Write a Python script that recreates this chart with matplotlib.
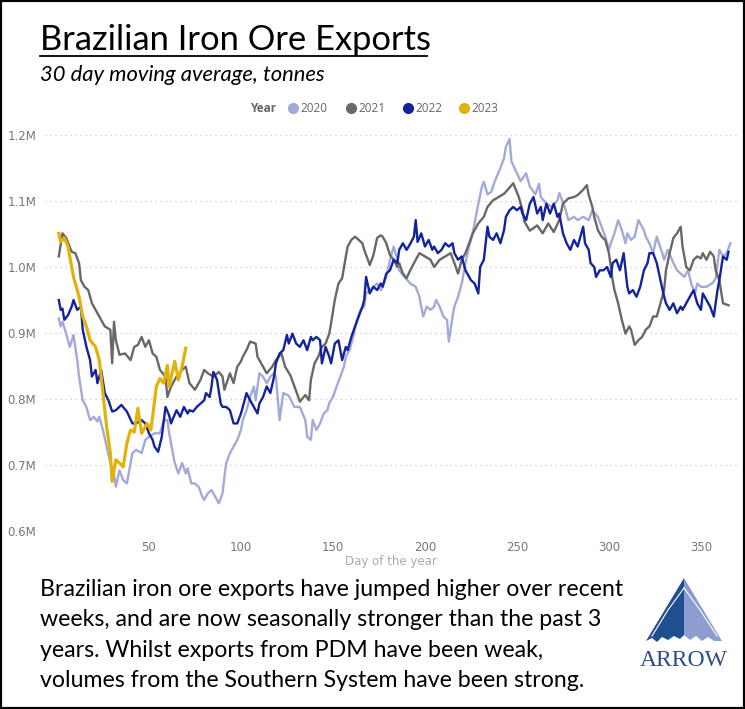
import matplotlib
matplotlib.use("Agg")
import matplotlib.pyplot as plt
from matplotlib.lines import Line2D
from matplotlib.patches import Polygon, Rectangle
from matplotlib.ticker import FuncFormatter

# ---- data (30 day moving average, million tonnes) ----
days_2020 = [1, 2, 3, 5, 7, 9, 11, 12, 14, 16, 18, 20, 22, 23, 25, 27, 29, 31, 32, 34,
             36, 38, 40, 41, 43, 46, 48, 50, 53, 56, 58, 60, 61, 64, 66, 68, 70, 71, 73, 75,
             77, 79, 80, 82, 84, 86, 88, 90, 91, 92, 94, 96, 98, 100, 101, 103, 105, 107, 108, 110,
             112, 114, 116, 118, 119, 121, 123, 126, 129, 132, 135, 136, 138, 139, 141, 143, 145, 147, 148, 150,
             152, 154, 156, 157, 159, 161, 163, 165, 167, 168, 170, 172, 174, 176, 177, 179, 181, 183, 185, 186,
             189, 192, 195, 197, 199, 201, 203, 205, 206, 208, 210, 212, 213, 215, 216, 218, 220, 222, 224, 225,
             227, 229, 231, 232, 234, 236, 238, 241, 243, 244, 246, 247, 250, 252, 255, 257, 260, 262, 263, 266,
             269, 272, 273, 276, 278, 281, 283, 286, 289, 291, 294, 296, 298, 300, 301, 303, 305, 307, 309, 310,
             312, 314, 316, 319, 320, 322, 324, 326, 329, 330, 332, 335, 337, 339, 341, 343, 345, 347, 348, 350,
             353, 356, 358, 360, 362, 364, 366]
vals_2020 = [0.922, 0.910, 0.917, 0.899, 0.879, 0.897, 0.859, 0.834, 0.798, 0.788, 0.768, 0.773, 0.766, 0.773, 0.753, 0.728, 0.703, 0.687, 0.667, 0.692,
             0.677, 0.672, 0.703, 0.718, 0.723, 0.718, 0.738, 0.743, 0.748, 0.748, 0.768, 0.768, 0.748, 0.703, 0.687, 0.703, 0.687, 0.695, 0.672, 0.672,
             0.667, 0.652, 0.647, 0.657, 0.662, 0.652, 0.642, 0.657, 0.682, 0.703, 0.718, 0.728, 0.738, 0.753, 0.768, 0.783, 0.803, 0.819, 0.798, 0.839,
             0.834, 0.824, 0.834, 0.839, 0.834, 0.768, 0.809, 0.805, 0.788, 0.788, 0.768, 0.743, 0.738, 0.768, 0.753, 0.763, 0.778, 0.783, 0.794, 0.803,
             0.819, 0.834, 0.849, 0.864, 0.874, 0.894, 0.920, 0.935, 0.940, 0.960, 0.965, 0.970, 0.975, 0.965, 0.970, 0.985, 1.011, 1.031, 1.011, 0.995,
             0.985, 0.975, 0.970, 0.955, 0.925, 0.940, 0.935, 0.940, 0.950, 0.940, 0.925, 0.920, 0.887, 0.925, 0.940, 0.955, 0.975, 1.006, 1.031, 1.041,
             1.066, 1.096, 1.122, 1.129, 1.110, 1.114, 1.130, 1.150, 1.165, 1.182, 1.194, 1.160, 1.142, 1.130, 1.142, 1.122, 1.110, 1.126, 1.106, 1.096,
             1.091, 1.101, 1.112, 1.091, 1.071, 1.076, 1.071, 1.076, 1.071, 1.086, 1.076, 1.061, 1.046, 1.026, 1.036, 1.051, 1.071, 1.056, 1.036, 1.051,
             1.041, 1.046, 1.071, 1.056, 1.046, 1.036, 1.021, 1.046, 1.021, 1.011, 1.026, 1.006, 0.995, 0.990, 0.985, 0.995, 0.972, 0.962, 0.975, 0.970,
             0.970, 0.975, 0.982, 1.026, 1.016, 1.021, 1.036]

days_2021 = [1, 2, 3, 5, 8, 10, 12, 13, 15, 17, 19, 21, 23, 26, 29, 30, 31, 32, 34, 37,
             40, 42, 44, 46, 48, 50, 52, 54, 56, 59, 60, 62, 65, 68, 70, 72, 75, 78, 80, 82,
             85, 88, 90, 91, 94, 96, 98, 100, 101, 103, 105, 108, 109, 112, 114, 117, 119, 122, 124, 127,
             130, 132, 135, 137, 138, 140, 142, 144, 146, 148, 149, 151, 153, 155, 157, 158, 160, 162, 164, 166,
             167, 169, 170, 172, 174, 176, 177, 179, 181, 183, 185, 186, 188, 190, 192, 195, 197, 200, 203, 205,
             208, 211, 214, 216, 218, 220, 222, 224, 226, 229, 232, 234, 237, 240, 243, 245, 248, 251, 253, 254,
             257, 261, 264, 267, 270, 273, 275, 278, 281, 283, 286, 288, 289, 291, 292, 294, 296, 298, 300, 302,
             303, 305, 307, 309, 311, 312, 314, 316, 318, 320, 322, 324, 326, 328, 330, 331, 333, 335, 337, 339,
             340, 342, 344, 346, 348, 350, 351, 353, 355, 357, 358, 360, 362, 365]
vals_2021 = [1.016, 1.033, 1.051, 1.044, 1.023, 1.021, 1.006, 0.980, 0.970, 0.965, 0.945, 0.935, 0.925, 0.910, 0.905, 0.854, 0.917, 0.889, 0.867, 0.869,
             0.859, 0.879, 0.882, 0.894, 0.879, 0.889, 0.869, 0.864, 0.844, 0.834, 0.803, 0.819, 0.834, 0.844, 0.849, 0.824, 0.814, 0.829, 0.844, 0.839,
             0.834, 0.841, 0.834, 0.814, 0.839, 0.824, 0.849, 0.857, 0.864, 0.874, 0.887, 0.884, 0.864, 0.849, 0.839, 0.849, 0.859, 0.869, 0.849, 0.835,
             0.812, 0.796, 0.806, 0.798, 0.829, 0.854, 0.864, 0.879, 0.884, 0.899, 0.915, 0.950, 0.975, 0.983, 1.016, 1.031, 1.041, 1.046, 1.041, 1.036,
             1.026, 1.011, 1.003, 1.018, 1.044, 1.048, 1.046, 1.036, 1.018, 1.011, 1.000, 1.006, 0.990, 0.983, 0.995, 1.011, 1.021, 1.016, 1.011, 1.000,
             1.011, 1.016, 1.021, 1.006, 0.990, 1.011, 1.021, 1.036, 1.051, 1.066, 1.076, 1.091, 1.101, 1.106, 1.111, 1.117, 1.127, 1.106, 1.086, 1.069,
             1.055, 1.063, 1.051, 1.066, 1.053, 1.071, 1.096, 1.104, 1.106, 1.109, 1.117, 1.124, 1.109, 1.091, 1.076, 1.056, 1.046, 1.041, 1.021, 0.980,
             0.965, 0.945, 0.920, 0.899, 0.910, 0.905, 0.882, 0.889, 0.894, 0.905, 0.910, 0.925, 0.925, 0.945, 0.965, 0.995, 1.021, 1.044, 1.051, 1.061,
             1.031, 1.000, 0.995, 1.011, 1.016, 1.013, 1.021, 1.011, 1.023, 1.016, 0.995, 0.980, 0.945, 0.942]

days_2022 = [1, 2, 3, 4, 6, 8, 9, 11, 13, 14, 16, 18, 19, 21, 22, 24, 26, 28, 30, 32,
             35, 38, 41, 43, 46, 48, 50, 52, 53, 55, 57, 59, 61, 62, 63, 65, 67, 69, 71, 72,
             74, 76, 78, 80, 81, 83, 84, 85, 87, 89, 90, 92, 94, 96, 98, 100, 101, 103, 105, 107,
             109, 110, 112, 114, 116, 118, 119, 121, 123, 125, 126, 128, 130, 132, 134, 136, 138, 139, 141, 143,
             144, 146, 148, 149, 151, 153, 155, 157, 158, 160, 162, 164, 166, 167, 168, 170, 172, 174, 176, 177,
             179, 181, 183, 185, 186, 188, 190, 192, 194, 195, 196, 198, 200, 202, 204, 205, 207, 209, 211, 213,
             215, 216, 218, 220, 222, 224, 225, 227, 229, 230, 232, 234, 235, 237, 239, 241, 243, 244, 246, 248,
             250, 252, 253, 255, 257, 259, 261, 263, 264, 266, 268, 270, 272, 273, 275, 277, 279, 281, 283, 284,
             286, 287, 289, 290, 292, 293, 295, 297, 299, 301, 302, 304, 306, 308, 310, 311, 313, 315, 317, 319,
             321, 322, 324, 326, 328, 330, 331, 333, 335, 337, 339, 340, 342, 344, 346, 348, 350, 351, 353, 355,
             357, 359, 360, 362, 364, 365]
vals_2022 = [0.950, 0.935, 0.937, 0.920, 0.927, 0.940, 0.950, 0.935, 0.940, 0.905, 0.879, 0.859, 0.834, 0.844, 0.824, 0.844, 0.809, 0.798, 0.781, 0.783,
             0.791, 0.781, 0.763, 0.763, 0.768, 0.763, 0.748, 0.738, 0.728, 0.720, 0.743, 0.788, 0.775, 0.763, 0.770, 0.783, 0.773, 0.788, 0.778, 0.783,
             0.781, 0.788, 0.793, 0.798, 0.809, 0.803, 0.819, 0.841, 0.829, 0.793, 0.788, 0.788, 0.783, 0.763, 0.763, 0.778, 0.788, 0.809, 0.798, 0.788,
             0.778, 0.793, 0.803, 0.819, 0.809, 0.834, 0.854, 0.869, 0.874, 0.897, 0.884, 0.899, 0.884, 0.879, 0.889, 0.874, 0.894, 0.889, 0.894, 0.889,
             0.854, 0.879, 0.864, 0.854, 0.884, 0.889, 0.859, 0.879, 0.874, 0.894, 0.910, 0.925, 0.940, 0.950, 0.985, 0.960, 0.970, 0.965, 0.975, 0.970,
             0.990, 0.995, 1.011, 1.006, 1.026, 1.036, 1.026, 1.035, 1.046, 1.071, 1.038, 1.051, 1.031, 1.041, 1.026, 1.031, 1.021, 1.026, 1.036, 1.031,
             1.036, 1.021, 1.011, 1.016, 0.995, 0.985, 0.980, 0.975, 0.960, 1.000, 1.011, 1.061, 1.046, 1.041, 1.051, 1.036, 1.056, 1.076, 1.086, 1.091,
             1.086, 1.091, 1.081, 1.071, 1.096, 1.106, 1.081, 1.091, 1.071, 1.096, 1.081, 1.096, 1.076, 1.081, 1.051, 1.036, 1.026, 1.041, 1.031, 1.041,
             1.061, 1.036, 1.026, 1.006, 1.000, 0.985, 0.995, 0.995, 1.000, 0.985, 1.006, 1.011, 0.995, 1.021, 0.970, 0.960, 0.965, 0.955, 0.970, 0.995,
             1.006, 1.021, 1.021, 1.006, 0.980, 0.955, 0.945, 0.935, 0.945, 0.930, 0.940, 0.935, 0.945, 0.955, 0.965, 0.945, 0.935, 0.960, 0.950, 0.940,
             0.925, 0.965, 0.980, 1.016, 1.011, 1.023]

days_2023 = [1, 2, 4, 6, 9, 12, 14, 16, 18, 21, 23, 25, 27, 29, 30, 32, 34, 36, 38, 40,
             42, 44, 46, 49, 51, 52, 54, 56, 58, 60, 61, 64, 66, 68, 70]
vals_2023 = [1.051, 1.038, 1.044, 1.031, 0.985, 0.955, 0.925, 0.910, 0.889, 0.879, 0.859, 0.809, 0.758, 0.718, 0.675, 0.708, 0.703, 0.697, 0.733, 0.753,
             0.750, 0.786, 0.748, 0.763, 0.753, 0.773, 0.819, 0.831, 0.824, 0.851, 0.819, 0.857, 0.829, 0.849, 0.877]

years = ["2020", "2021", "2022", "2023"]
colors = ["#a2aad9", "#686868", "#13239c", "#e0b20c"]
series = [(days_2020, vals_2020), (days_2021, vals_2021),
          (days_2022, vals_2022), (days_2023, vals_2023)]

y_ticks = [0.6, 0.7, 0.8, 0.9, 1.0, 1.1, 1.2]
x_ticks = [50, 100, 150, 200, 250, 300, 350]

W, H = 745, 709


def fx(px):
    return px / W


def fy(py):
    return 1 - py / H


fig = plt.figure(figsize=(W / 100, H / 100), dpi=100)
fig.patch.set_facecolor("white")

# plot area: x 45..737 px, y 135..531 px
ax = fig.add_axes([fx(45), fy(531), (737 - 45) / W, (531 - 135) / H])
for (d, v), c, yr in zip(series, colors, years):
    lw = 2.3 if yr == "2023" else 1.7
    ax.plot(d, v, color=c, lw=lw, solid_joinstyle="round", clip_on=False)

ax.set_xlim(-6.5, 369.6)
ax.set_ylim(0.6, 1.2)
ax.set_yticks(y_ticks)
ax.set_xticks(x_ticks)
ax.yaxis.set_major_formatter(FuncFormatter(lambda v, p: f"{v:.1f}M"))
ax.grid(axis="y", color="#c8c8c8", linestyle=(0, (1, 3)), linewidth=0.9)
ax.set_axisbelow(True)
for s in ax.spines.values():
    s.set_visible(False)
ax.tick_params(length=0, labelsize=8.5, labelcolor="#777777")
ax.tick_params(axis="x", pad=7)
for lab in ax.get_yticklabels():
    lab.set_horizontalalignment("left")
ax.tick_params(axis="y", pad=27)
ax.set_xlabel("Day of the year", fontsize=8.5, color="#aaaaaa", labelpad=1)

# title + subtitle
fig.text(fx(40), fy(40), "Brazilian Iron Ore Exports", fontsize=24.8, family="Lato",
         va="center", ha="left", color="black")
fig.add_artist(Line2D([fx(40), fx(427)], [fy(56), fy(56)], color="black", lw=1.3))
fig.text(fx(40), fy(75), "30 day moving average, tonnes", fontsize=15.8, family="Lato",
         style="italic", va="center", ha="left", color="black")

# legend
fig.text(fx(250), fy(108), "Year", fontsize=8.5, fontweight="bold", color="#666666",
         va="center", ha="left", family="Open Sans")
leg_x = [293, 351, 408, 464]
for x0, c, yr in zip(leg_x, colors, years):
    fig.add_artist(Line2D([fx(x0)], [fy(108)], marker="o", markersize=7,
                          color=c, linestyle="none"))
    fig.text(fx(x0 + 7), fy(108), yr, fontsize=8.5, color="#666666",
             va="center", ha="left", family="Open Sans")

# commentary
comment = ("Brazilian iron ore exports have jumped higher over recent\n"
           "weeks, and are now seasonally stronger than the past 3\n"
           "years. Whilst exports from PDM have been weak,\n"
           "volumes from the Southern System have been strong.")
fig.text(fx(40), fy(579), comment, fontsize=16.7, family="Lato", va="top", ha="left",
         color="black", linespacing=1.55)

# ARROW logo
left = [(684, 578), (646, 641), (652, 638), (657, 642), (662, 637), (668, 640),
        (674, 636), (680, 639), (684, 635)]
right = [(684, 578), (684, 635), (690, 640), (696, 636), (702, 641), (708, 637),
         (714, 641), (722, 641)]
fig.add_artist(Polygon([(fx(x), fy(y)) for x, y in left], closed=True,
                       facecolor="#1f4f8f", edgecolor="none"))
fig.add_artist(Polygon([(fx(x), fy(y)) for x, y in right], closed=True,
                       facecolor="#8e9dd0", edgecolor="none"))
fig.add_artist(Line2D([fx(684), fx(668), fx(652)], [fy(588), fy(610), fy(636)],
                      color="white", lw=0.8))
fig.add_artist(Line2D([fx(684), fx(700), fx(717)], [fy(588), fy(610), fy(636)],
                      color="white", lw=0.8))
fig.text(fx(684), fy(660), "ARROW", fontsize=17, family="Liberation Serif",
         color="#2d4c8c", ha="center", va="center")

# outer border
fig.add_artist(Rectangle((0, 0), 1, 1, transform=fig.transFigure, fill=False,
                         edgecolor="black", lw=3))

fig.savefig("out.png", dpi=100)
